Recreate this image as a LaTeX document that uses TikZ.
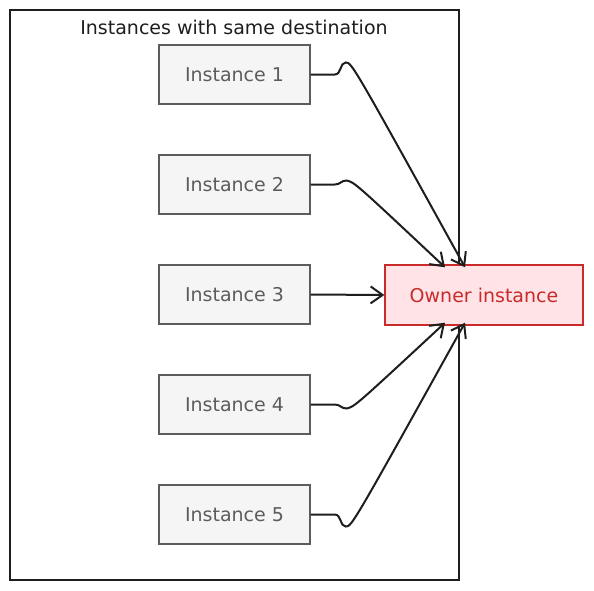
\documentclass[tikz,border=0pt]{standalone}
\usepackage{fontspec}
\setmainfont{DejaVu Sans}
\usetikzlibrary{arrows.meta}
\definecolor{instfill}{HTML}{F5F5F5}
\definecolor{instline}{HTML}{5C5C5C}
\definecolor{ownfill}{HTML}{FFE3E6}
\definecolor{ownline}{HTML}{C92A2A}
\definecolor{ink}{HTML}{1E1E1E}
\begin{document}
\begin{tikzpicture}[x=1pt,y=-1pt,
  inst/.style={draw=instline, fill=instfill, line width=1.4pt, minimum width=151pt, minimum height=59pt, inner sep=0pt, text=instline, font=\fontsize{19}{22}\selectfont},
  owner/.style={draw=ownline, fill=ownfill, line width=1.4pt, minimum width=198pt, minimum height=60pt, inner sep=0pt, text=ownline, font=\fontsize{19}{22}\selectfont},
  link/.style={draw=ink, line width=2pt, -{Straight Barb[length=12pt,width=17pt]}}]
  \useasboundingbox (0,0) rectangle (594,590);
  \node[draw=ink, line width=2pt, minimum width=449pt, minimum height=570pt, inner sep=0pt] (grp) at (234.5,295) {};
  \node[text=ink, font=\fontsize{19}{22}\selectfont] (title) at (234,27) {Instances with same destination};
  \node[inst] (i1) at (234.5,74.5) {Instance 1};
  \node[inst] (i2) at (234.5,184.5) {Instance 2};
  \node[inst] (i3) at (234.5,294.5) {Instance 3};
  \node[inst] (i4) at (234.5,404.5) {Instance 4};
  \node[inst] (i5) at (234.5,514.5) {Instance 5};
  \node[owner] (own) at (484,295) {Owner instance};
  \path[link] (i1.east) -- ++(24,0) .. controls +(7,0) and +(-6,0) .. ++(11,-12) .. controls +(6,0) .. ([xshift=-19pt,yshift=-3pt]own.north);
  \path[link] (i2.east) -- ++(24,0) .. controls +(6,0) and +(-6,0) .. ++(12,-4) .. controls +(8,2) .. ([xshift=-39pt,yshift=-3pt]own.north);
  \path[link] (i3.east) -- (own.west);
  \path[link] (i4.east) -- ++(24,0) .. controls +(6,0) and +(-6,0) .. ++(12,4) .. controls +(8,-2) .. ([xshift=-39pt,yshift=3pt]own.south);
  \path[link] (i5.east) -- ++(24,0) .. controls +(7,0) and +(-6,0) .. ++(11,12) .. controls +(6,0) .. ([xshift=-19pt,yshift=3pt]own.south);
\end{tikzpicture}
\end{document}
